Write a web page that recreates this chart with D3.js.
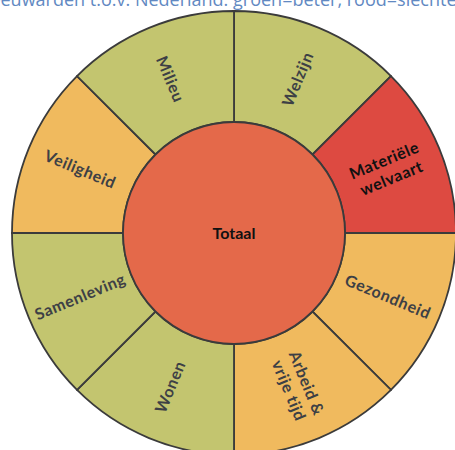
<!DOCTYPE html>
<html>
<head>
<meta charset="utf-8">
<script src="https://cdn.jsdelivr.net/npm/d3@7"></script>
<style>
  body { margin: 0; background: #fff; }
  svg { display: block; }
</style>
</head>
<body>
<div id="chart"></div>
<script>
var width = 455;
var height = 450;

// Thema's, met de klok mee vanaf boven
var categories = ["Welzijn", "Materiële\nwelvaart", "Gezondheid", "Arbeid &\nvrije tijd",
  "Wonen", "Samenleving", "Veiligheid", "Milieu"];
// Score t.o.v. Nederland
var scores = ["beter", "slechter", "gemiddeld", "gemiddeld",
  "beter", "beter", "gemiddeld", "beter"];
var totalLabel = "Totaal";
var totalScore = "slechter_totaal";
var title = "Leeuwarden t.o.v. Nederland: groen=beter, rood=slechter";

var colorScale = d3.scaleOrdinal()
  .domain(["beter", "gemiddeld", "slechter", "slechter_totaal"])
  .range(["#c3c56f", "#f0ba5e", "#dd4a41", "#e4694a"]);

var center = { x: 234, y: 233 };
var rInner = 111;
var rOuter = 222;

var svg = d3.select("#chart")
  .append("svg")
  .attr("width", width)
  .attr("height", height);

// Titel (valt deels buiten beeld)
svg.append("text")
  .attr("x", -19)
  .attr("y", 6)
  .attr("font-family", "Open Sans, sans-serif")
  .attr("font-size", 18)
  .attr("fill", "#6289c2")
  .text(title);

var g = svg.append("g")
  .attr("transform", "translate(" + center.x + "," + center.y + ")");

var pie = d3.pie()
  .sort(null)
  .value(function () { return 1; });

var arc = d3.arc()
  .innerRadius(rInner)
  .outerRadius(rOuter);

var slices = pie(categories.map(function (c, i) {
  return { name: c, score: scores[i] };
}));

g.selectAll("path.slice")
  .data(slices)
  .enter()
  .append("path")
  .attr("class", "slice")
  .attr("d", arc)
  .attr("fill", function (d) { return colorScale(d.data.score); })
  .attr("stroke", "#3b3b3b")
  .attr("stroke-width", 1.8);

// Binnenste cirkel
g.append("circle")
  .attr("r", rInner)
  .attr("fill", colorScale(totalScore))
  .attr("stroke", "#3b3b3b")
  .attr("stroke-width", 1.8);

g.append("text")
  .attr("text-anchor", "middle")
  .attr("dy", "0.35em")
  .attr("font-family", "Lato, sans-serif")
  .attr("font-weight", "bold")
  .attr("font-size", 16)
  .attr("fill", "#111")
  .text(totalLabel);

// Labels, radiaal gedraaid
var labels = g.selectAll("text.label")
  .data(slices)
  .enter()
  .append("text")
  .attr("class", "label")
  .attr("text-anchor", "middle")
  .attr("font-family", "Lato, sans-serif")
  .attr("font-weight", "bold")
  .attr("font-size", 16)
  .attr("letter-spacing", 0.6)
  .attr("fill", function (d) { return d.data.score === "slechter" ? "#111" : "#3d4045"; })
  .attr("transform", function (d) {
    var a = (d.startAngle + d.endAngle) / 2 * 180 / Math.PI;
    var r = (rInner + rOuter) / 2;
    return "rotate(" + (a - 90) + ") translate(" + r + ",0) rotate(" + (a < 180 ? 0 : 180) + ")";
  });

labels.each(function (d) {
  var lines = d.data.name.split("\n");
  var sel = d3.select(this);
  lines.forEach(function (line, i) {
    sel.append("tspan")
      .attr("x", 0)
      .attr("dy", i === 0 ? (0.35 - (lines.length - 1) * 0.6) + "em" : "1.2em")
      .text(line);
  });
});
</script>
</body>
</html>
